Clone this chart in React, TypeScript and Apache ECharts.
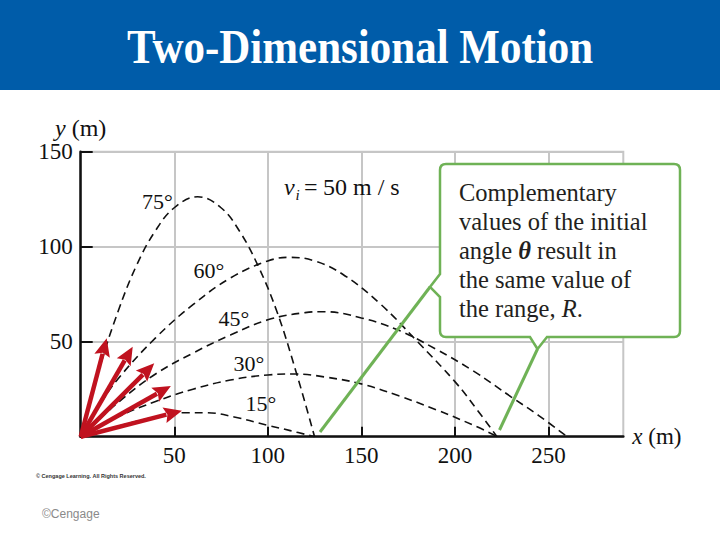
import React, { useEffect, useRef } from 'react';
import * as echarts from 'echarts';

const xTicks = [50, 100, 150, 200, 250];
const yTicks = [50, 100, 150];
const xMax = 290;
const yMax = 150;

const traj75 = [[0, 0], [10, 36], [20, 66], [30, 90.5], [40, 108.5], [50, 120.5], [62.5, 126.3], [75, 120.5], [85, 108], [95, 89.5], [105, 65.5], [115, 34.5], [125, 0]];
const traj60 = [[0, 0], [10, 16.5], [20, 30.5], [40, 52], [60, 69.5], [80, 83.5], [100, 92.5], [112, 94.4], [125, 92.5], [140, 85.5], [160, 70], [180, 50], [200, 29], [212, 14], [222.5, 0]];
const traj45 = [[0, 0], [20, 18], [40, 33], [60, 44], [80, 53.5], [100, 61.5], [120, 65.3], [130, 65.8], [150, 62.5], [170, 56], [190, 46], [210, 34.5], [230, 21], [245, 11], [260, 0]];
const traj30 = [[0, 0], [20, 10.5], [40, 18.5], [60, 25], [80, 29.8], [100, 32.5], [115, 33], [130, 31.5], [150, 27.8], [170, 21.5], [190, 14.2], [210, 6], [222.8, 0]];
const traj15 = [[0, 0], [20, 5.5], [40, 10.3], [55, 12.6], [67.5, 12.6], [82, 10.4], [100, 6], [112, 3.2], [125, 0]];
const trajectories = [traj75, traj60, traj45, traj30, traj15];
const angleNames = ['75°', '60°', '45°', '30°', '15°'];
const arrowTips = [[13.9, 51.8], [27.8, 47.4], [39.3, 38.6], [48.2, 26.7], [54.1, 13.7]];

const SERIF = '"Liberation Serif", "Times New Roman", "DejaVu Serif", serif';
const GREEN = '#6FB256';
const RED = '#C0121F';

const calloutPath =
  'M 446 164 L 674 164 Q 680 164 680 170 L 680 331 Q 680 337 674 337 L 547 337 L 537.5 349 L 530 337 L 446 337 Q 440 337 440 331 L 440 297 L 430 287 L 440 274 L 440 170 Q 440 164 446 164 Z';
echarts.graphic.registerShape('callout', echarts.graphic.extendPath(calloutPath, {}));

export default function App() {
  const ref = useRef<HTMLDivElement>(null);
  useEffect(() => {
    if (!ref.current) return;
    const chart = echarts.init(ref.current, undefined, { renderer: 'svg' });
    const labelPos: [number, number][] = [[157.5, 201], [209, 270], [234, 318], [249, 363], [261, 403]];
    const series: any[] = trajectories.map((d, i) => ({
      type: 'line',
      name: angleNames[i],
      data: d,
      symbol: 'none',
      smooth: 0.4,
      lineStyle: { color: '#111', width: 1.6, type: [8, 5] },
      silent: true,
      z: 3,
    }));
    series.push({
      type: 'custom',
      coordinateSystem: 'cartesian2d',
      data: arrowTips,
      encode: { x: 0, y: 1 },
      silent: true,
      clip: false,
      z: 5,
      renderItem: (params: any, api: any) => {
        const o = api.coord([0, 0]);
        const t = api.coord([api.value(0), api.value(1)]);
        const dx = t[0] - o[0];
        const dy = t[1] - o[1];
        const L = Math.hypot(dx, dy);
        const ux = dx / L;
        const uy = dy / L;
        const hl = 18;
        const hw = 8;
        const bx = t[0] - ux * hl;
        const by = t[1] - uy * hl;
        const px = -uy;
        const py = ux;
        return {
          type: 'group',
          children: [
            { type: 'line', shape: { x1: o[0], y1: o[1], x2: bx + ux * 2, y2: by + uy * 2 }, style: { stroke: RED, lineWidth: 4.5 } },
            {
              type: 'polygon',
              shape: { points: [[t[0], t[1]], [bx + px * hw, by + py * hw], [bx + ux * 3, by + uy * 3], [bx - px * hw, by - py * hw]] },
              style: { fill: RED },
            },
          ],
        };
      },
    });

    const textBase = { fontFamily: SERIF, fontSize: 24.5, fill: '#231f20' };

    chart.setOption({
      animation: false,
      grid: {
        left: 80.7,
        right: 96.7,
        top: 151.7,
        bottom: 103.3,
        show: true,
        borderColor: '#c6c6c6',
        borderWidth: 2,
      },
      xAxis: {
        type: 'value',
        min: 0,
        max: xMax,
        interval: 50,
        name: '{i|x} (m)',
        nameLocation: 'end',
        nameGap: 9,
        nameTextStyle: {
          fontFamily: SERIF,
          fontSize: 23,
          color: '#111',
          rich: { i: { fontFamily: SERIF, fontSize: 23, fontStyle: 'italic', color: '#111' } },
        },
        axisLine: { show: true, lineStyle: { color: '#111', width: 2.5 } },
        axisTick: { show: true, inside: true, length: 10, lineStyle: { color: '#111', width: 2 }, customValues: xTicks },
        axisLabel: { customValues: xTicks, fontFamily: SERIF, fontSize: 23, color: '#111', margin: 7 },
        splitLine: { show: true, lineStyle: { color: '#c6c6c6', width: 2 } },
      },
      yAxis: {
        type: 'value',
        min: 0,
        max: yMax,
        interval: 50,
        name: '{i|y} (m)',
        nameLocation: 'end',
        nameGap: 10,
        nameTextStyle: {
          fontFamily: SERIF,
          fontSize: 24,
          color: '#111',
          align: 'center',
          rich: { i: { fontFamily: SERIF, fontSize: 24, fontStyle: 'italic', color: '#111' } },
        },
        axisLine: { show: true, lineStyle: { color: '#111', width: 2.5 } },
        axisTick: { show: true, inside: true, length: 12, lineStyle: { color: '#111', width: 2 }, customValues: yTicks },
        axisLabel: { customValues: yTicks, fontFamily: SERIF, fontSize: 23, color: '#111', margin: 8 },
        splitLine: { show: true, lineStyle: { color: '#c6c6c6', width: 2 } },
      },
      series,
      graphic: [
        { type: 'rect', shape: { x: 0, y: 0, width: 720, height: 90 }, style: { fill: '#005CA9' }, z: 0 },
        {
          type: 'text',
          x: 360,
          y: 47,
          scaleY: 1.12,
          z: 1,
          style: {
            text: 'Two-Dimensional Motion',
            fill: '#ffffff',
            fontFamily: SERIF,
            fontWeight: 'bold',
            fontSize: 43,
            align: 'center',
            verticalAlign: 'middle',
            textAlign: 'center',
            textVerticalAlign: 'middle',
          },
        },
        ...angleNames.map((a, i) => ({
          type: 'text',
          x: labelPos[i][0],
          y: labelPos[i][1],
          z: 20,
          style: {
            text: a,
            fill: '#111',
            fontFamily: SERIF,
            fontSize: 22,
            align: 'center',
            verticalAlign: 'middle',
            textAlign: 'center',
            textVerticalAlign: 'middle',
          },
        })),
        {
          type: 'text', x: 284, y: 187, z: 20,
          style: { text: 'v', fill: '#111', fontFamily: SERIF, fontStyle: 'italic', fontSize: 24, verticalAlign: 'middle', textVerticalAlign: 'middle' },
        },
        {
          type: 'text', x: 295.5, y: 195, z: 20,
          style: { text: 'i', fill: '#111', fontFamily: SERIF, fontStyle: 'italic', fontSize: 15, verticalAlign: 'middle', textVerticalAlign: 'middle' },
        },
        {
          type: 'text', x: 304, y: 187, z: 20,
          style: { text: '=', fill: '#111', fontFamily: SERIF, fontSize: 24, verticalAlign: 'middle', textVerticalAlign: 'middle' },
        },
        {
          type: 'text', x: 323, y: 187, z: 20,
          style: { text: '50 m / s', fill: '#111', fontFamily: SERIF, fontSize: 24, verticalAlign: 'middle', textVerticalAlign: 'middle' },
        },
        { type: 'callout', x: 0, y: 0, z: 50, style: { fill: '#ffffff', stroke: GREEN, lineWidth: 2.5 } },
        { type: 'line', z: 51, shape: { x1: 320, y1: 432, x2: 430, y2: 287 }, style: { stroke: GREEN, lineWidth: 3 } },
        { type: 'line', z: 51, shape: { x1: 499.5, y1: 430, x2: 537.5, y2: 349 }, style: { stroke: GREEN, lineWidth: 3 } },
        {
          type: 'text',
          x: 459,
          y: 178,
          z: 52,
          style: {
            text: 'Complementary\nvalues of the initial\nangle {bi|θ} result in\nthe same value of\nthe range, {i|R}.',
            ...textBase,
            lineHeight: 29,
            rich: {
              bi: { fontFamily: SERIF, fontSize: 24.5, fontStyle: 'italic', fontWeight: 'bold', fill: '#231f20', color: '#231f20', lineHeight: 29 },
              i: { fontFamily: SERIF, fontSize: 24.5, fontStyle: 'italic', fill: '#231f20', color: '#231f20', lineHeight: 29 },
            },
          },
        },
        {
          type: 'text', x: 36, y: 476, z: 20,
          style: { text: '© Cengage Learning. All Rights Reserved.', fill: '#333', fontFamily: 'Liberation Sans, Arial, sans-serif', fontSize: 5.5, fontWeight: 'bold', verticalAlign: 'middle', textVerticalAlign: 'middle' },
        },
        {
          type: 'text', x: 42, y: 514, z: 20,
          style: { text: '©Cengage', fill: '#8a8a8a', fontFamily: 'Liberation Sans, Arial, sans-serif', fontSize: 12, verticalAlign: 'middle', textVerticalAlign: 'middle' },
        },
      ],
    });
    return () => chart.dispose();
  }, []);
  return <div ref={ref} style={{ position: 'absolute', left: 0, top: 0, width: 720, height: 540, background: '#fff' }} />;
}
